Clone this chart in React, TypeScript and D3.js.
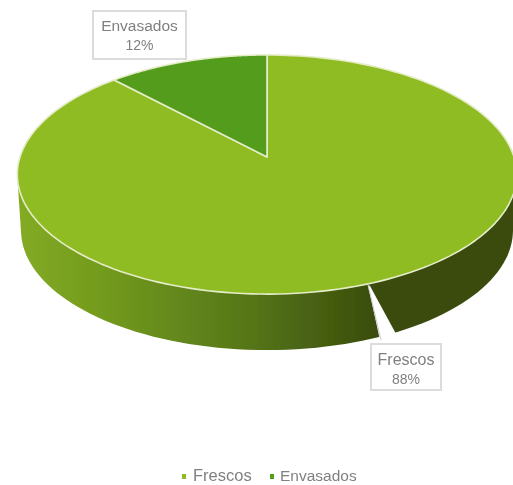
import React from "react";
import * as d3 from "d3";

const categories = ["Frescos", "Envasados"];
const values = [88, 12];
const percentLabels = ["88%", "12%"];
const colors = ["#8fbc22", "#529c1f"];

const W = 513, H = 485;
const apex = { x: 267, y: 157 };
const R = 247, K = 117, P = 0.1465, DEPTH = 56, BOTTOM_SCALE = 0.985;
const FONT = "Liberation Sans";

const project = (a: number): [number, number] => {
  const w = 1 + P * Math.cos(a);
  return [apex.x + (R * Math.sin(a)) / w, apex.y - (K * Math.cos(a)) / w];
};
const sample = (a0: number, a1: number) =>
  d3.range(0, 181).map((i) => project(a0 + ((a1 - a0) * i) / 180));

const line = d3.line();
const arcs = d3.pie<number>().sort(null).startAngle(0).endAngle(2 * Math.PI)(values);
const smallSweep = arcs[1].endAngle - arcs[1].startAngle;
// First slice runs clockwise from 12 o'clock, the second closes the circle back to it.
const sweeps: [number, number][] = [
  [0, 2 * Math.PI - smallSweep],
  [2 * Math.PI - smallSweep, 2 * Math.PI],
];

const outline = sample(0, 2 * Math.PI);
const bottom = outline.map(([x, y]): [number, number] => [
  apex.x + (x - apex.x) * BOTTOM_SCALE,
  y + DEPTH,
]);
const sideHull = d3.polygonHull([...outline, ...bottom]) as [number, number][];

export default function App() {
  return (
    <svg
      width={W}
      height={H}
      viewBox={`0 0 ${W} ${H}`}
      style={{ position: "absolute", left: 0, top: 0 }}
    >
      <defs>
        <linearGradient id="side" gradientUnits="userSpaceOnUse" x1={16} x2={378} y1={0} y2={0}>
          <stop offset="0" stopColor="#83ab22" />
          <stop offset="0.25" stopColor="#729a1e" />
          <stop offset="0.65" stopColor="#557518" />
          <stop offset="1" stopColor="#3a4c0c" />
        </linearGradient>
        <filter id="soft" x="-5%" y="-5%" width="110%" height="110%">
          <feGaussianBlur stdDeviation="0.6" />
        </filter>
        <filter id="softText" x="-10%" y="-20%" width="120%" height="140%">
          <feGaussianBlur stdDeviation="0.65" />
        </filter>
      </defs>
      <g filter="url(#soft)">
        <path d={line(sideHull) + "Z"} fill="url(#side)" />
        {arcs.map((d, i) => (
          <path
            key={categories[i]}
            d={line([[apex.x, apex.y], ...sample(sweeps[i][0], sweeps[i][1])]) + "Z"}
            fill={colors[i]}
            stroke="#e4edc8"
            strokeWidth={1.6}
            strokeLinejoin="round"
          />
        ))}
        {/* leader of the lower label */}
        <path d="M368,285L381,345L398,345L395,332L370,286Z" fill="#ffffff" />
        <path d="M368,285L381,340" fill="none" stroke="#c9c9c9" strokeWidth={1} />
        {/* data label boxes */}
        <rect x={93} y={11} width={93} height={48} fill="#ffffff" stroke="#dcdcdc" strokeWidth={2} />
        <rect x={371} y={344} width={70} height={46} fill="#ffffff" stroke="#dcdcdc" strokeWidth={2} />
        {/* legend markers */}
        <rect x={182} y={474} width={4} height={5} fill={colors[0]} />
        <rect x={270} y={474} width={4} height={5} fill={colors[1]} />
      </g>
      <g filter="url(#softText)" fontFamily={FONT} fill="#808080">
        <text x={139.5} y={31} textAnchor="middle" fontSize={15.5}>{categories[1]}</text>
        <text x={139.5} y={50} textAnchor="middle" fontSize={14}>{percentLabels[1]}</text>
        <text x={406} y={365} textAnchor="middle" fontSize={16}>{categories[0]}</text>
        <text x={406} y={384} textAnchor="middle" fontSize={14}>{percentLabels[0]}</text>
        <text x={193} y={481} fontSize={16.5}>{categories[0]}</text>
        <text x={280} y={481} fontSize={15.5}>{categories[1]}</text>
      </g>
    </svg>
  );
}
